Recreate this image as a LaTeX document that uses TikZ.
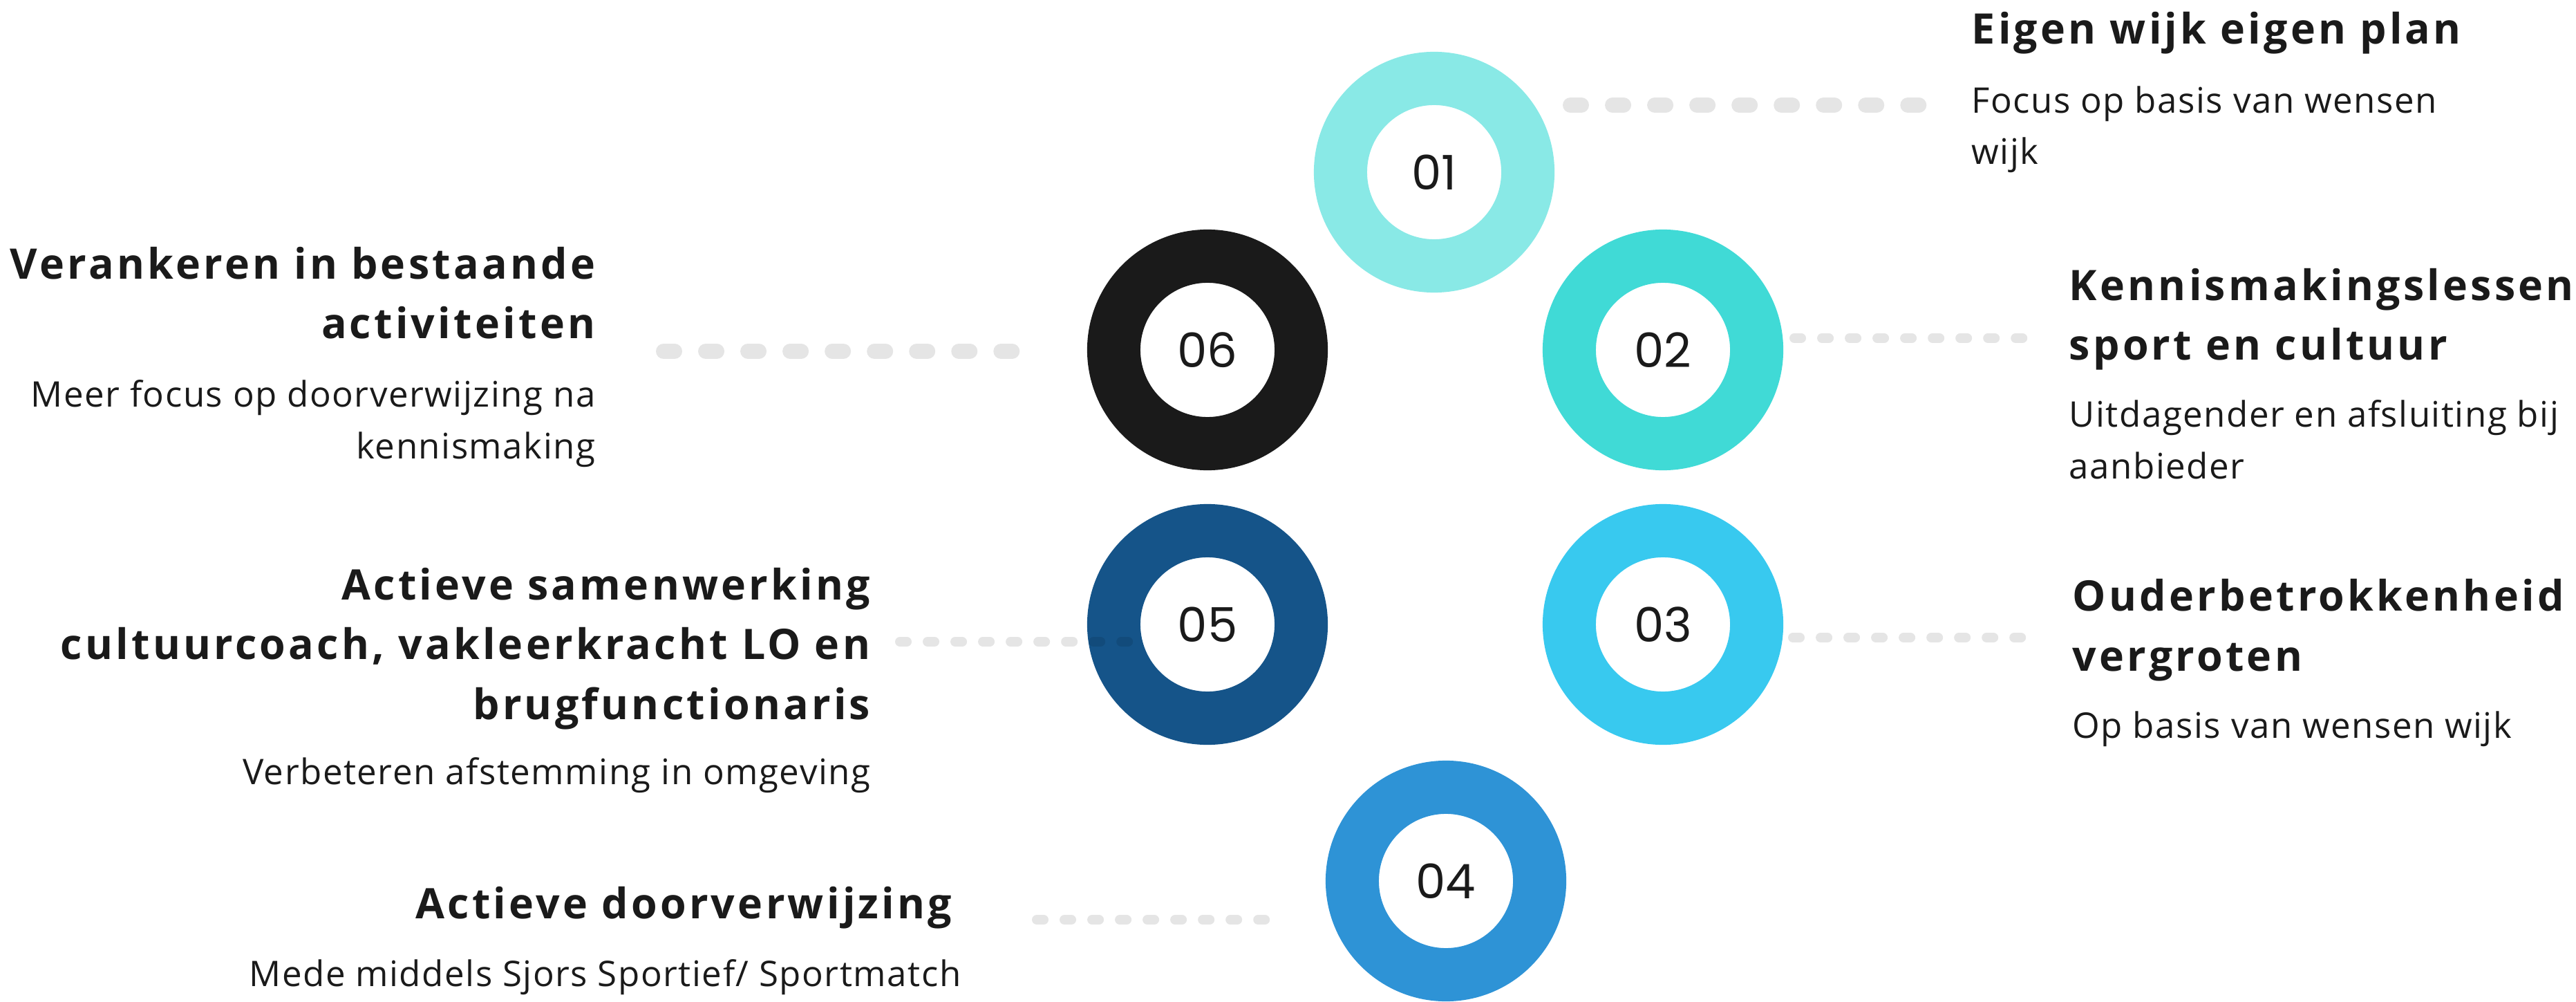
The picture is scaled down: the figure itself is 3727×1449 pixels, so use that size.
\documentclass[tikz,border=0pt]{standalone}
\usepackage{fontspec}
\setmainfont{Open Sans}
\newfontfamily\numfont{Poppins}
\newfontfamily\headfont[LetterSpace=7]{Open Sans}
\newfontfamily\descfont[LetterSpace=3]{Open Sans}
\definecolor{ink}{HTML}{1A1A1A}
\definecolor{ringA}{HTML}{89E9E6}
\definecolor{ringB}{HTML}{40DAD6}
\definecolor{ringC}{HTML}{38C9EF}
\definecolor{ringD}{HTML}{2E93D6}
\definecolor{ringE}{HTML}{155489}
\definecolor{ringF}{HTML}{1A1A1A}
\tikzset{
  ring/.style={circle, draw=#1, line width=0.77cm, minimum size=2.71cm, inner sep=0pt,
    text=ink, font=\numfont\fontsize{19.6}{20}\selectfont},
  head/.style={inner sep=0pt, text=ink, font=\headfont\bfseries\fontsize{17.3}{24.5}\selectfont},
  desc/.style={inner sep=0pt, text=ink, font=\descfont\fontsize{14.5}{21.3}\selectfont},
  bigdots/.style={black, opacity=0.1, line width=0.22cm, line cap=round,
    dash pattern=on 0.16cm off 0.45cm},
  smalldots/.style={black, opacity=0.1, line width=0.14cm, line cap=round,
    dash pattern=on 0.10cm off 0.30cm},
}
\begin{document}
\begin{tikzpicture}[x=0.01cm, y=-0.01cm]
  \useasboundingbox (0,0) rectangle (3727,1449);
  % the six rings
  \node[ring=ringA] (c01) at (2075,249) {01};
  \node[ring=ringB] (c02) at (2406,506) {02};
  \node[ring=ringC] (c03) at (2406,903) {03};
  \node[ring=ringD] (c04) at (2092,1274) {04};
  \node[ring=ringE] (c05) at (1747,903) {05};
  \node[ring=ringF] (c06) at (1747,506) {06};
  % ends of the dotted lines
  \coordinate (p01) at (2272,152);
  \coordinate (q01) at (2779,152);
  \coordinate (p02) at (2596,489);
  \coordinate (q02) at (2942,489);
  \coordinate (p03) at (2594,922);
  \coordinate (q03) at (2930,922);
  \coordinate (p04) at (1835,1330);
  \coordinate (q04) at (1500,1330);
  \coordinate (p05) at (1640,928);
  \coordinate (q05) at (1302,928);
  \coordinate (p06) at (1469,508);
  \coordinate (q06) at (960,508);
  \draw[bigdots] (p01) -- (q01);
  \draw[smalldots] (p02) -- (q02);
  \draw[smalldots] (p03) -- (q03);
  \draw[smalldots] (q04) -- (p04);
  \draw[smalldots] (q05) -- (p05);
  \draw[bigdots] (q06) -- (p06);
  % texts on the right (base = last line)
  \node[head, anchor=base west, align=left] (t01) at (2852,64) {Eigen wijk eigen plan};
  \node[desc, anchor=base west, align=left] (d01) at (2852,238) {Focus op basis van wensen\\wijk};
  \node[head, anchor=base west, align=left] (t02) at (2993,521) {Kennismakingslessen\\sport en cultuur};
  \node[desc, anchor=base west, align=left] (d02) at (2993,692) {Uitdagender en afsluiting bij\\aanbieder};
  \node[head, anchor=base west, align=left] (t03) at (2998,970) {Ouderbetrokkenheid\\vergroten};
  \node[desc, anchor=base west, align=left] (d03) at (2998,1067) {Op basis van wensen wijk};
  % texts on the left
  \node[head, anchor=base east, align=right] (t06) at (862,490) {Verankeren in bestaande\\activiteiten};
  \node[desc, anchor=base east, align=right] (d06) at (862,663) {Meer focus op doorverwijzing na\\kennismaking};
  \node[head, anchor=base east, align=right] (t05) at (1260,1040) {Actieve samenwerking\\cultuurcoach, vakleerkracht LO en\\brugfunctionaris};
  \node[desc, anchor=base east, align=right] (d05) at (1260,1134) {Verbeteren afstemming in omgeving};
  \node[head, anchor=base east, align=right] (t04) at (1378,1328) {Actieve doorverwijzing};
  \node[desc, anchor=base east, align=right] (d04) at (1391,1426) {Mede middels Sjors Sportief/ Sportmatch};
\end{tikzpicture}
\end{document}
